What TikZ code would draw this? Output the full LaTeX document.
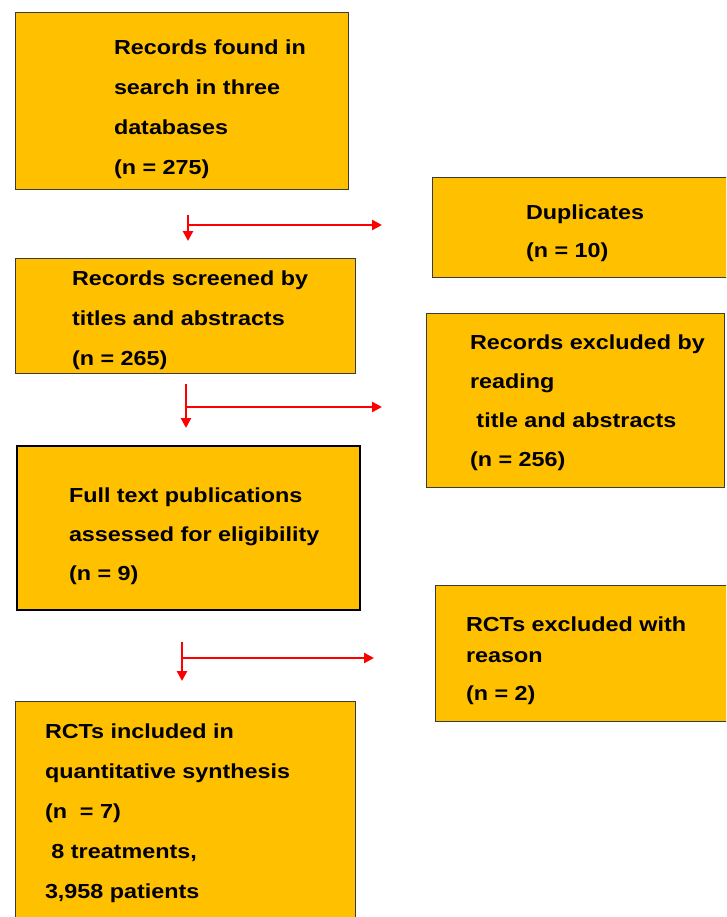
\documentclass[tikz,border=0pt]{standalone}
\usepackage{fontspec}
\newfontfamily\boxfont{Liberation Sans}[FakeStretch=1.15]
\usetikzlibrary{arrows.meta}
\definecolor{boxfill}{HTML}{FFC000}
\definecolor{boxline}{HTML}{3A3A3A}
\definecolor{arrowred}{HTML}{FF0000}
\newcommand\firststrut{\rule{0pt}{20pt}}
\tikzset{
  box/.style={draw=boxline, line width=1pt, fill=boxfill, inner sep=0pt, outer sep=0pt},
  thickbox/.style={box, draw=black, line width=2pt},
  boxtext/.style={anchor=north west, inner sep=0pt, outer sep=0pt, align=left,
    font=\boxfont\bfseries\fontsize{20.3}{#1}\selectfont},
  boxtext/.default=40,
  flow/.style={draw=arrowred, line width=2.6pt, -{Triangle[length=10pt,width=10pt]}}
}
\begin{document}
\begin{tikzpicture}[x=1pt,y=-1pt]
\useasboundingbox (0,0) rectangle (726,917);
\clip (0,0) rectangle (726,917);

% boxes
\node[box, minimum width=333pt, minimum height=177pt] (A) at (181.5,101.5) {};
\node[box, minimum width=298pt, minimum height=99pt] (B) at (581,227.5) {};
\node[box, minimum width=340pt, minimum height=115pt] (C) at (185,315.5) {};
\node[box, minimum width=298pt, minimum height=174pt] (D) at (575,400) {};
\node[thickbox, minimum width=343pt, minimum height=164pt] (E) at (188.5,528) {};
\node[box, minimum width=295pt, minimum height=136pt] (F) at (582.5,653) {};
\node[box, minimum width=340pt, minimum height=229pt] (G) at (185,815.5) {};

% texts
\node[boxtext=40] (tA) at (114,35) {\firststrut Records found in\\search in three\\databases\\(n = 275)};
\node[boxtext=38] (tB) at (526,199) {\firststrut Duplicates\\(n = 10)};
\node[boxtext=40] (tC) at (72,265) {\firststrut Records screened by\\titles and abstracts\\(n = 265)};
\node[boxtext=39] (tD) at (470,329) {\firststrut Records excluded by\\reading\\\ title and abstracts\\(n = 256)};
\node[boxtext=39] (tE) at (69,482) {\firststrut Full text publications\\assessed for eligibility\\(n = 9)};
\node[boxtext=38] (tF) at (466,611) {\firststrut RCTs excluded with\\[-7pt]reason\\(n = 2)};
\node[boxtext=40] (tG) at (45,718) {\firststrut RCTs included in\\quantitative synthesis\\(n \ = 7)\\\ 8 treatments,\\3,958 patients};

% connector coordinates
\coordinate (v1s) at (188,215);
\coordinate (v1e) at (188,241);
\coordinate (h1s) at (188,225);
\coordinate (h1e) at (382,225);

\coordinate (v2s) at (186,384);
\coordinate (v2e) at (186,428);
\coordinate (h2s) at (186,407);
\coordinate (h2e) at (382,407);

\coordinate (v3s) at (182,642);
\coordinate (v3e) at (182,681);
\coordinate (h3s) at (182,658);
\coordinate (h3e) at (374,658);

\draw[flow] (v1s) -- (v1e);
\draw[flow] (h1s) -- (h1e);
\draw[flow] (v2s) -- (v2e);
\draw[flow] (h2s) -- (h2e);
\draw[flow] (v3s) -- (v3e);
\draw[flow] (h3s) -- (h3e);
\end{tikzpicture}
\end{document}
